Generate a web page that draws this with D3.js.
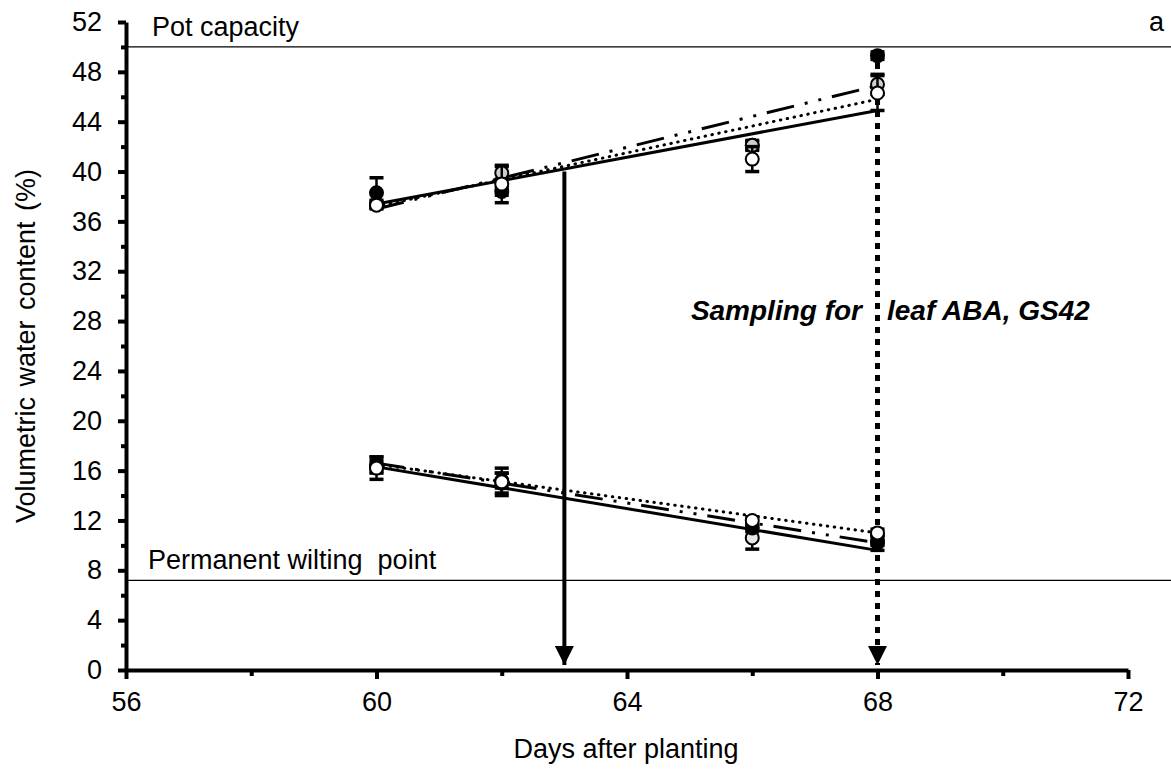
<!DOCTYPE html>
<html>
<head>
<meta charset="utf-8">
<script src="https://cdn.jsdelivr.net/npm/d3@7"></script>
<style>
  body { margin: 0; background: #fff; }
  svg { display: block; font-family: "Liberation Sans", Arial, sans-serif; }
</style>
</head>
<body>
<svg id="chart" width="1171" height="770"></svg>
<script>
// ---- data ----
const days = [60, 62, 66, 68];
const xTicksMajor = [56, 60, 64, 68, 72];
const xTicksMinor = [58, 62, 66, 70];
const yTicksMajor = [0, 4, 8, 12, 16, 20, 24, 28, 32, 36, 40, 44, 48, 52];
const yTicksMinor = [2, 6, 10, 14, 18, 22, 26, 30, 34, 38, 42, 46, 50];

// upper (well-watered) group
const wetBlack = [38.3, 38.4, 42.1, 49.3];
const wetBlackSE = [1.2, 0.3, 0.3, 0.3];
const wetGray = [37.4, 39.9, 42.1, 47.0];
const wetGraySE = [0.3, 0.5, 0.4, 0.8];
const wetOpen = [37.3, 39.0, 41.0, 46.3];
const wetOpenSE = [0.3, 1.5, 1.0, 1.4];

// lower (drying) group
const dryBlack = [16.5, 15.0, 11.4, 10.2];
const dryBlackSE = [0.6, 0.8, 0.3, 0.6];
const dryGray = [16.3, 15.2, 10.6, 10.4];
const dryGraySE = [0.5, 0.6, 0.9, 0.4];
const dryOpen = [16.2, 15.1, 12.0, 11.0];
const dryOpenSE = [0.9, 1.1, 0.3, 0.3];

// regression line endpoints (day 60, day 68)
const fitDays = [60, 68];
const wetFitSolid = [37.4, 44.9];
const wetFitDotted = [37.2, 45.8];
const wetFitDashDot = [37.0, 46.9];
const dryFitSolid = [16.3, 9.6];
const dryFitDotted = [16.5, 11.0];
const dryFitDashDot = [16.6, 10.2];

const potCapacity = 50;
const wiltingPoint = 7.2;
const arrowSolidDay = 63, arrowSolidTop = 40;
const arrowDottedDay = 68, arrowDottedTop = 48.7;

// ---- layout ----
const svg = d3.select("#chart");
const x = d3.scaleLinear().domain([56, 72]).range([126, 1128]);
const y = d3.scaleLinear().domain([0, 52]).range([670, 22]);
const FS = 27;

// reference lines
svg.append("line").attr("x1", x(56)).attr("x2", 1171)
  .attr("y1", y(potCapacity)).attr("y2", y(potCapacity))
  .attr("stroke", "#000").attr("stroke-width", 1.3);
svg.append("line").attr("x1", x(56)).attr("x2", 1171)
  .attr("y1", y(wiltingPoint)).attr("y2", y(wiltingPoint))
  .attr("stroke", "#000").attr("stroke-width", 1.3);

svg.append("text").attr("x", 152).attr("y", 36).attr("font-size", FS).text("Pot capacity");
svg.append("text").attr("x", 148).attr("y", 569).attr("font-size", FS)
  .style("white-space", "pre").text("Permanent wilting  point");
svg.append("text").attr("x", 1149).attr("y", 31).attr("font-size", FS).text("a");

// axes
function styleAxis(g) {
  g.select(".domain").attr("stroke-width", 4);
  g.selectAll(".tick line").attr("stroke-width", 4);
  g.selectAll(".tick text").attr("font-size", FS).attr("fill", "#000")
    .attr("font-family", "Liberation Sans, Arial, sans-serif");
}
const yAxis = svg.append("g").attr("transform", `translate(${x(56)},0)`)
  .call(d3.axisLeft(y).tickValues(yTicksMajor).tickSize(8).tickSizeOuter(0).tickPadding(16).tickFormat(d3.format("d")));
styleAxis(yAxis);
const yMinor = svg.append("g").attr("transform", `translate(${x(56)},0)`)
  .call(d3.axisLeft(y).tickValues(yTicksMinor).tickSize(5).tickSizeOuter(0).tickFormat(""));
yMinor.select(".domain").remove();
yMinor.selectAll(".tick line").attr("stroke-width", 4);

const xAxis = svg.append("g").attr("transform", `translate(0,${y(0)})`)
  .call(d3.axisBottom(x).tickValues(xTicksMajor).tickSize(9).tickSizeOuter(0).tickPadding(13).tickFormat(d3.format("d")));
styleAxis(xAxis);
const xMinor = svg.append("g").attr("transform", `translate(0,${y(0)})`)
  .call(d3.axisBottom(x).tickValues(xTicksMinor).tickSize(6).tickSizeOuter(0).tickFormat(""));
xMinor.select(".domain").remove();
xMinor.selectAll(".tick line").attr("stroke-width", 4);

svg.append("text").attr("x", 626).attr("y", 758).attr("text-anchor", "middle")
  .attr("font-size", FS).text("Days after planting");
svg.append("text").attr("transform", `translate(35,${(y(0)+y(52))/2}) rotate(-90)`)
  .attr("text-anchor", "middle").attr("font-size", FS).attr("word-spacing", 3)
  .text("Volumetric water content (%)");

// arrows
svg.append("defs").append("marker").attr("id", "ah").attr("viewBox", "0 0 10 10")
  .attr("refX", 10).attr("refY", 5).attr("markerUnits", "userSpaceOnUse")
  .attr("markerWidth", 24).attr("markerHeight", 19).attr("orient", "auto")
  .append("path").attr("d", "M0,0 L10,5 L0,10 Z").attr("fill", "#000");

svg.append("line").attr("x1", x(arrowSolidDay)).attr("x2", x(arrowSolidDay))
  .attr("y1", y(arrowSolidTop)).attr("y2", y(0) - 5)
  .attr("stroke", "#000").attr("stroke-width", 4).attr("marker-end", "url(#ah)");
svg.append("line").attr("x1", x(arrowDottedDay)).attr("x2", x(arrowDottedDay))
  .attr("y1", y(arrowDottedTop)).attr("y2", y(0) - 5)
  .attr("stroke", "#000").attr("stroke-width", 5).attr("stroke-dasharray", "6,6").attr("marker-end", "url(#ah)");

// annotation text, split around the dotted arrow
svg.append("text").attr("x", 862).attr("y", 320).attr("font-size", 28).attr("text-anchor", "end")
  .attr("font-weight", "bold").attr("font-style", "italic").text("Sampling for");
svg.append("text").attr("x", 887).attr("y", 320).attr("font-size", 28)
  .attr("font-weight", "bold").attr("font-style", "italic").text("leaf ABA, GS42");

// regression lines
const line = d3.line().x(d => x(d[0])).y(d => y(d[1]));
function fit(vals, dash, width, cap) {
  svg.append("path").datum(fitDays.map((d, i) => [d, vals[i]]))
    .attr("d", line).attr("fill", "none").attr("stroke", "#000")
    .attr("stroke-width", width).attr("stroke-dasharray", dash)
    .attr("stroke-linecap", cap || "butt");
}
const DOT = "0.5,6.5", DASHDOT = "28,11,3,11,3,11";
fit(wetFitDotted, DOT, 3, "round");
fit(wetFitDashDot, DASHDOT, 3);
fit(wetFitSolid, null, 3);
fit(dryFitDotted, DOT, 3, "round");
fit(dryFitDashDot, DASHDOT, 3);
fit(dryFitSolid, null, 3);

// points with error bars
function series(vals, se, fill) {
  const g = svg.append("g");
  days.forEach((d, i) => {
    const cx = x(d);
    g.append("line").attr("x1", cx).attr("x2", cx)
      .attr("y1", y(vals[i] - se[i])).attr("y2", y(vals[i] + se[i]))
      .attr("stroke", "#000").attr("stroke-width", 2.5);
    [vals[i] - se[i], vals[i] + se[i]].forEach(v => {
      g.append("line").attr("x1", cx - 7).attr("x2", cx + 7)
        .attr("y1", y(v)).attr("y2", y(v)).attr("stroke", "#000").attr("stroke-width", 3.5);
    });
    g.append("circle").attr("cx", cx).attr("cy", y(vals[i])).attr("r", 6.5)
      .attr("fill", fill).attr("stroke", "#000").attr("stroke-width", 2);
  });
}
series(wetBlack, wetBlackSE, "#000");
series(wetGray, wetGraySE, "#cfcfcf");
series(wetOpen, wetOpenSE, "#fff");
series(dryGray, dryGraySE, "#e6e6e6");
series(dryBlack, dryBlackSE, "#000");
series(dryOpen, dryOpenSE, "#fff");
</script>
</body>
</html>
